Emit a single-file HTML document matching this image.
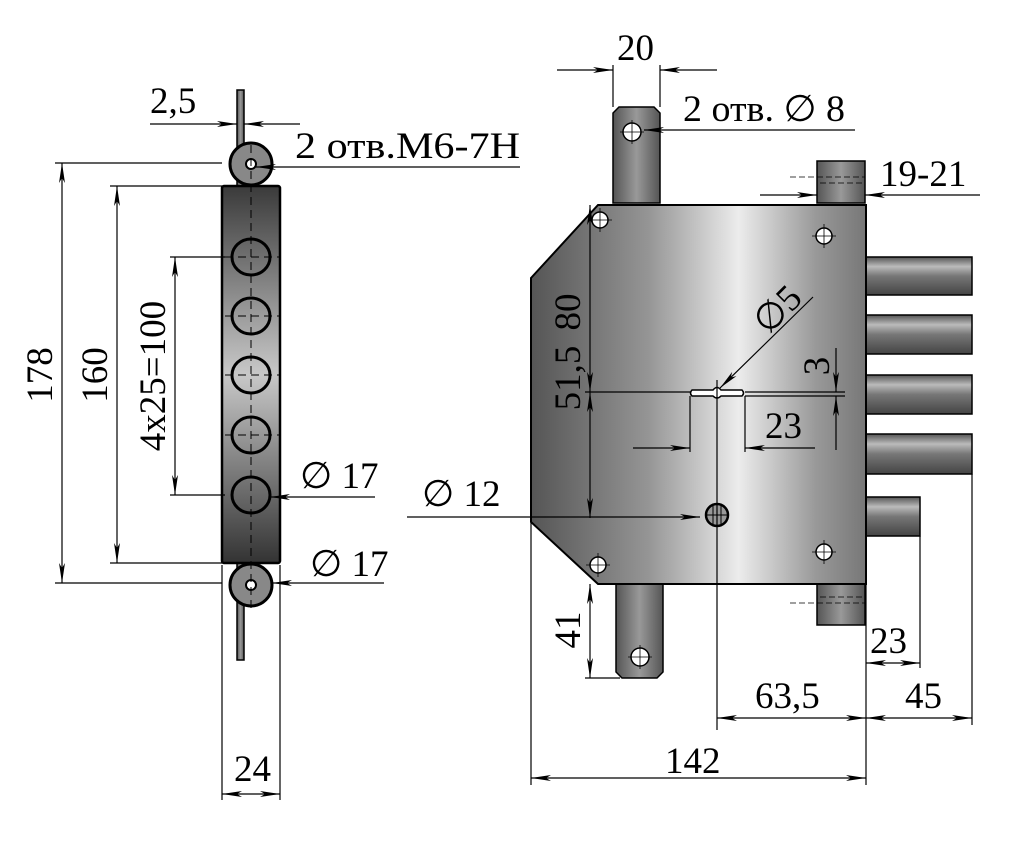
<!DOCTYPE html>
<html><head><meta charset="utf-8"><style>
html,body{margin:0;padding:0;background:#fff;}
svg{display:block;}
</style></head><body>
<svg width="1031" height="841" viewBox="0 0 1031 841" xmlns="http://www.w3.org/2000/svg">
<defs>
<linearGradient id="gl" x1="0" y1="0" x2="0" y2="1">
<stop offset="0" stop-color="#3a3a3a"/><stop offset="0.5" stop-color="#c8c8c8"/><stop offset="1" stop-color="#333"/>
</linearGradient>
<linearGradient id="gr" x1="0" y1="0" x2="1" y2="0">
<stop offset="0" stop-color="#555"/><stop offset="0.35" stop-color="#959595"/><stop offset="0.62" stop-color="#ececec"/><stop offset="0.85" stop-color="#999"/><stop offset="1" stop-color="#777"/>
</linearGradient>
<linearGradient id="gb" x1="0" y1="0" x2="0" y2="1">
<stop offset="0" stop-color="#555"/><stop offset="0.25" stop-color="#bbb"/><stop offset="0.5" stop-color="#777"/><stop offset="1" stop-color="#444"/>
</linearGradient>
<linearGradient id="gt" x1="0" y1="0" x2="1" y2="0">
<stop offset="0" stop-color="#555"/><stop offset="0.5" stop-color="#999"/><stop offset="1" stop-color="#555"/>
</linearGradient>
<marker id="a" viewBox="0 0 20 8" refX="20" refY="4" markerWidth="20" markerHeight="8" markerUnits="userSpaceOnUse" orient="auto-start-reverse">
<path d="M0,1 L20,4 L0,7 L5,4z" fill="#000"/></marker>
</defs>

<g stroke="#000" fill="none" stroke-width="1.2">
<rect x="237" y="90" width="7" height="570" fill="url(#gt)" stroke-width="1.5"/>
<circle cx="251" cy="164" r="21" fill="#888" stroke-width="3"/>
<circle cx="251" cy="164" r="5" fill="#fff" stroke-width="2"/>
<circle cx="251" cy="585" r="21" fill="#888" stroke-width="3"/>
<circle cx="251" cy="585" r="5" fill="#fff" stroke-width="2"/>
<rect x="222" y="186" width="58" height="377" fill="url(#gl)" stroke-width="2.5" rx="2"/>
<g stroke-width="3">
<ellipse cx="251" cy="257" rx="19" ry="18"/>
<ellipse cx="251" cy="316" rx="19" ry="18"/>
<ellipse cx="251" cy="375" rx="19" ry="18"/>
<ellipse cx="251" cy="435" rx="19" ry="18"/>
<ellipse cx="251" cy="495" rx="19" ry="18"/>
</g>
<g stroke-dasharray="8,5" stroke-width="1">
<line x1="251" y1="145" x2="251" y2="610"/>
<line x1="225" y1="257" x2="280" y2="257"/><line x1="225" y1="316" x2="280" y2="316"/>
<line x1="225" y1="375" x2="280" y2="375"/><line x1="225" y1="435" x2="280" y2="435"/>
</g>
<line x1="55" y1="163" x2="222" y2="163"/><line x1="55" y1="583" x2="222" y2="583"/>
<line x1="62" y1="163" x2="62" y2="583" marker-start="url(#a)" marker-end="url(#a)"/>
<line x1="110" y1="186" x2="222" y2="186"/><line x1="110" y1="563" x2="222" y2="563"/>
<line x1="117" y1="186" x2="117" y2="563" marker-start="url(#a)" marker-end="url(#a)"/>
<line x1="170" y1="257" x2="225" y2="257"/><line x1="170" y1="495" x2="225" y2="495"/>
<line x1="175" y1="257" x2="175" y2="495" marker-start="url(#a)" marker-end="url(#a)"/>
<line x1="150" y1="124" x2="237" y2="124" marker-end="url(#a)"/>
<line x1="300" y1="124" x2="244" y2="124" marker-end="url(#a)"/>
<line x1="520" y1="167" x2="256" y2="167" marker-end="url(#a)"/>
<line x1="375" y1="497" x2="270" y2="497" marker-end="url(#a)"/>
<line x1="384" y1="583" x2="272" y2="583" marker-end="url(#a)"/>
<line x1="222" y1="565" x2="222" y2="800"/><line x1="280" y1="565" x2="280" y2="800"/>
<line x1="222" y1="794" x2="280" y2="794" marker-start="url(#a)" marker-end="url(#a)"/>

<path d="M613,203 L613,113 L619,107 L654,107 L660,113 L660,203z" fill="url(#gt)" stroke-width="1.5"/>
<path d="M616,583 L616,672 L622,678 L657,678 L663,672 L663,583z" fill="url(#gt)" stroke-width="1.5"/>
<rect x="817" y="161" width="48" height="42" fill="url(#gt)" stroke-width="1.5"/>
<rect x="817" y="583" width="48" height="42" fill="url(#gt)" stroke-width="1.5"/>
<g fill="url(#gb)" stroke-width="1.5">
<rect x="866" y="257" width="106" height="38"/>
<rect x="866" y="315" width="106" height="39"/>
<rect x="866" y="375" width="106" height="39"/>
<rect x="866" y="434" width="106" height="40"/>
<rect x="866" y="497" width="54" height="39"/>
</g>
<path d="M531,278 L598,205 L866,205 L866,584 L598,584 L531,522z" fill="url(#gr)" stroke-width="2"/>
<g stroke-dasharray="6,3" stroke-width="0.8">
<line x1="790" y1="177" x2="865" y2="177"/><line x1="820" y1="183" x2="865" y2="183"/>
<line x1="790" y1="603" x2="865" y2="603"/><line x1="820" y1="597" x2="865" y2="597"/>
</g>
<g fill="#fff" stroke-width="1.5">
<circle cx="632" cy="132" r="9"/><circle cx="640" cy="657" r="9"/>
<circle cx="600" cy="220" r="8"/><circle cx="824" cy="236" r="8"/>
<circle cx="598" cy="565" r="8"/><circle cx="824" cy="552" r="8"/>
</g>
<g stroke-width="0.8">
<path d="M632,120v24M620,132h24M640,645v24M628,657h24M600,208v24M588,220h24M824,224v24M812,236h24M598,553v24M586,565h24M824,540v24M812,552h24"/>
</g>
<path d="M692,390 L713,390 Q717,385 721,390 L742,390 Q745,393 742,396 L721,396 Q717,400 713,396 L692,396 Q689,393 692,390z" fill="#fff" stroke-width="1.5"/>
<circle cx="717" cy="515" r="11" fill="#999" stroke-width="2.5"/>
<path d="M713,506v18M717,505v20M721,506v18M707,515h20" stroke-width="1"/>
<line x1="717" y1="380" x2="717" y2="730"/>
<line x1="585" y1="392" x2="690" y2="392"/><line x1="745" y1="392" x2="845" y2="392"/>
<line x1="745" y1="396" x2="845" y2="396"/>
<line x1="590" y1="205" x2="590" y2="392" marker-start="url(#a)" marker-end="url(#a)"/>
<line x1="590" y1="392" x2="590" y2="518" marker-start="url(#a)" marker-end="url(#a)"/>
<line x1="407" y1="517" x2="700" y2="517" marker-end="url(#a)"/>
<line x1="836" y1="348" x2="836" y2="392" marker-end="url(#a)"/>
<line x1="836" y1="450" x2="836" y2="396" marker-end="url(#a)"/>
<line x1="690" y1="396" x2="690" y2="452"/><line x1="745" y1="396" x2="745" y2="452"/>
<line x1="633" y1="448" x2="690" y2="448" marker-end="url(#a)"/>
<line x1="815" y1="448" x2="745" y2="448" marker-end="url(#a)"/>
<line x1="813" y1="297" x2="720" y2="388" marker-end="url(#a)"/>
<line x1="613" y1="65" x2="613" y2="107"/><line x1="660" y1="65" x2="660" y2="107"/>
<line x1="557" y1="70" x2="613" y2="70" marker-end="url(#a)"/>
<line x1="717" y1="70" x2="660" y2="70" marker-end="url(#a)"/>
<line x1="855" y1="130" x2="644" y2="130" marker-end="url(#a)"/>
<line x1="760" y1="195" x2="817" y2="195" marker-end="url(#a)"/>
<line x1="980" y1="195" x2="865" y2="195" marker-end="url(#a)"/>
<line x1="585" y1="678" x2="620" y2="678"/>
<line x1="590" y1="584" x2="590" y2="678" marker-start="url(#a)" marker-end="url(#a)"/>
<line x1="531" y1="522" x2="531" y2="785"/><line x1="866" y1="584" x2="866" y2="785"/>
<line x1="972" y1="474" x2="972" y2="725"/><line x1="920" y1="536" x2="920" y2="668"/>
<line x1="866" y1="663" x2="920" y2="663" marker-start="url(#a)" marker-end="url(#a)"/>
<line x1="717" y1="718" x2="866" y2="718" marker-start="url(#a)" marker-end="url(#a)"/>
<line x1="866" y1="718" x2="972" y2="718" marker-start="url(#a)" marker-end="url(#a)"/>
<line x1="531" y1="778" x2="866" y2="778" marker-start="url(#a)" marker-end="url(#a)"/>
</g>

<g font-size="37" font-family="'Liberation Serif', 'DejaVu Serif', serif" fill="#000">
<text x="150" y="113">2,5</text>
<text x="295" y="158" textLength="225" lengthAdjust="spacingAndGlyphs">2 отв.М6-7Н</text>
<text x="300" y="488">∅ 17</text>
<text x="310" y="576">∅ 17</text>
<text x="234" y="781">24</text>
<text x="422" y="506">∅ 12</text>
<text transform="translate(52,375) rotate(-90)" text-anchor="middle">178</text>
<text transform="translate(107,375) rotate(-90)" text-anchor="middle">160</text>
<text transform="translate(165,376) rotate(-90)" text-anchor="middle">4х25=100</text>
<text x="617" y="60">20</text>
<text x="683" y="121" textLength="162" lengthAdjust="spacingAndGlyphs">2 отв. ∅ 8</text>
<text x="880" y="186">19-21</text>
<text transform="translate(580,312) rotate(-90)" text-anchor="middle">80</text>
<text transform="translate(580,378) rotate(-90)" text-anchor="middle">51,5</text>
<text transform="translate(786,318) rotate(-45)" text-anchor="middle">∅5</text>
<text transform="translate(829,366) rotate(-90)" text-anchor="middle">3</text>
<text x="765" y="438">23</text>
<text transform="translate(580,630) rotate(-90)" text-anchor="middle">41</text>
<text x="870" y="653">23</text>
<text x="755" y="708">63,5</text>
<text x="905" y="708">45</text>
<text x="665" y="773">142</text>
</g>
</svg>
</body></html>
